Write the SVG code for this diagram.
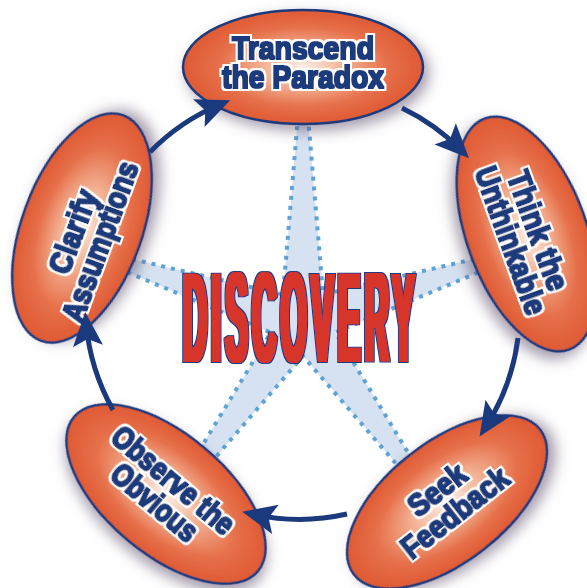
<svg xmlns="http://www.w3.org/2000/svg" width="587" height="588" viewBox="0 0 587 588">
<defs>
<style>
.node ellipse{fill:url(#eg);stroke:#1b3a7d;stroke-width:2.5;filter:url(#sh)}
.lblg{filter:url(#lf)}
.lbl{font-family:"Liberation Sans",Arial,sans-serif;font-weight:bold;font-size:31px;fill:#1b3a7d;text-anchor:middle}
.arr{fill:none;stroke:#1b3a7d;stroke-width:5;marker-end:url(#ah)}
.disc{font-family:"Liberation Sans",Arial,sans-serif;font-weight:bold;font-size:128px;fill:#d8352b;text-anchor:middle}
</style>
<radialGradient id="eg" cx="0.5" cy="0.5" r="0.5">
<stop offset="0" stop-color="#fdf0e9"/>
<stop offset="0.3" stop-color="#f4b99c"/>
<stop offset="0.7" stop-color="#e6704a"/>
<stop offset="1" stop-color="#df5a33"/>
</radialGradient>
<filter id="sh" x="-30%" y="-30%" width="170%" height="170%">
<feDropShadow dx="5" dy="6" stdDeviation="7" flood-color="#5b4b6b" flood-opacity="0.55"/>
</filter>
<filter id="lf" x="-15%" y="-25%" width="130%" height="150%">
<feMorphology in="SourceGraphic" operator="dilate" radius="0.6" result="t"/>
<feMorphology in="t" operator="dilate" radius="1.8" result="h"/>
<feFlood flood-color="#fff"/>
<feComposite in2="h" operator="in" result="halo"/>
<feMerge><feMergeNode in="halo"/><feMergeNode in="t"/></feMerge>
</filter>
<filter id="bold" x="-5%" y="-10%" width="110%" height="120%">
<feMorphology in="SourceGraphic" operator="dilate" radius="2.4 0.1" result="thick"/>
<feMorphology in="thick" operator="dilate" radius="1" result="outer"/>
<feFlood flood-color="#1b3a7d"/>
<feComposite in2="outer" operator="in" result="outline"/>
<feMerge><feMergeNode in="outline"/><feMergeNode in="thick"/></feMerge>
</filter>
<marker id="ah" markerUnits="userSpaceOnUse" markerWidth="40" markerHeight="34" refX="26" refY="17" orient="auto" viewBox="0 0 40 34">
<path d="M36,17 L2,2 L9,17 L2,32 Z" fill="#1b3a7d"/>
</marker>
</defs>
<rect width="587" height="588" fill="#fff"/>
<g id="star">
<polygon points="303,57 323,294.5 555,240.1 335.3,332.5 458.8,536.4 303,356 147.2,536.4 270.7,332.5 51,240.1 283,294.5" fill="#d6e2f1" stroke="#5ea3d6" stroke-width="4" stroke-dasharray="4 6"/>
</g>
<g id="n1" class="node">
<ellipse cx="303" cy="67" rx="120" ry="57"/>
<g class="lblg">
<text class="lbl" x="303" y="59" textLength="142" lengthAdjust="spacingAndGlyphs">Transcend</text>
<text class="lbl" x="303" y="88" textLength="162" lengthAdjust="spacingAndGlyphs">the Paradox</text>
</g>
</g>
<g id="n2" class="node">
<ellipse cx="0" cy="0" rx="123" ry="60" transform="translate(527,234) rotate(70)"/>
<g class="lblg" transform="translate(526,235) rotate(70)">
<text class="lbl" x="0" y="-2" textLength="125" lengthAdjust="spacingAndGlyphs">Think the</text>
<text class="lbl" x="0" y="27" textLength="155" lengthAdjust="spacingAndGlyphs">Unthinkable</text>
</g>
</g>
<g id="n3" class="node">
<ellipse cx="0" cy="0" rx="118" ry="60" transform="translate(447,502) rotate(-38)"/>
<g class="lblg" transform="translate(445,500) rotate(-38)">
<text class="lbl" x="0" y="-2" textLength="65" lengthAdjust="spacingAndGlyphs">Seek</text>
<text class="lbl" x="0" y="27" textLength="127" lengthAdjust="spacingAndGlyphs">Feedback</text>
</g>
</g>
<g id="n4" class="node">
<ellipse cx="0" cy="0" rx="120" ry="60" transform="translate(166,494) rotate(40)"/>
<g class="lblg" transform="translate(165,490) rotate(40)">
<text class="lbl" x="0" y="-2" textLength="150" lengthAdjust="spacingAndGlyphs">Observe the</text>
<text class="lbl" x="0" y="27" textLength="103" lengthAdjust="spacingAndGlyphs">Obvious</text>
</g>
</g>
<g id="n5" class="node">
<ellipse cx="0" cy="0" rx="120" ry="60" transform="translate(82,228) rotate(-70)"/>
<g class="lblg" transform="translate(85,236) rotate(-70)">
<text class="lbl" x="0" y="-2" textLength="87" lengthAdjust="spacingAndGlyphs">Clarify</text>
<text class="lbl" x="0" y="27" textLength="168" lengthAdjust="spacingAndGlyphs">Assumptions</text>
</g>
</g>
<g id="connectors">
<path class="arr" d="M150,152 A215,215 0 0 1 221,104"/>
<path class="arr" d="M402,108 A215,215 0 0 1 462,151"/>
<path class="arr" d="M518,338 A215,215 0 0 1 485,428"/>
<path class="arr" d="M347,514 A215,215 0 0 1 252,514"/>
<path class="arr" d="M113,410 A215,215 0 0 1 86,322"/>
</g>
<g id="title" filter="url(#bold)">
<text class="disc" transform="translate(301,362) scale(0.259,1)" x="0" y="0" letter-spacing="18">DISCOVERY</text>
</g>
</svg>
